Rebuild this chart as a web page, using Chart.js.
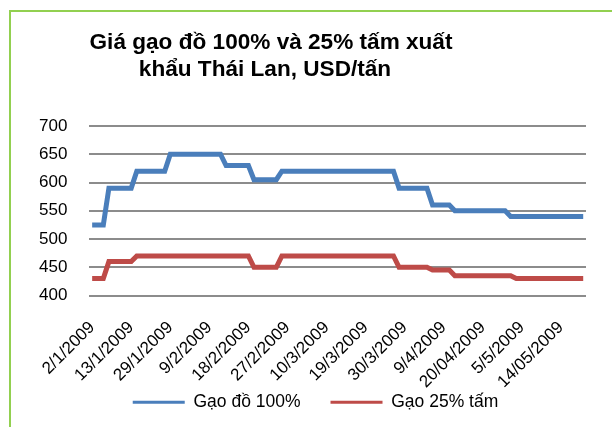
<!DOCTYPE html>
<html lang="vi">
<head>
  <meta charset="UTF-8">
  <title>Giá gạo đồ Thái Lan</title>
  <script src="https://cdn.jsdelivr.net/npm/chart.js"></script>
  <style>
    html, body { margin: 0; padding: 0; background: #fff; overflow: hidden; }
    #wrap { position: absolute; left: 0; top: 0; width: 612px; height: 427px; }
    #frame {
      position: absolute; left: 9px; top: 10px; width: 800px; height: 600px;
      border-left: 2px solid #92D050; border-top: 2px solid #92D050;
      pointer-events: none;
    }
  </style>
</head>
<body>
  <div id="wrap"><canvas id="riceChart"></canvas></div>
  <div id="frame"></div>
  <script>
    // tick labels, one every 7 data points
    const tickLabels = ['2/1/2009', '13/1/2009', '29/1/2009', '9/2/2009', '18/2/2009', '27/2/2009',
      '10/3/2009', '19/3/2009', '30/3/2009', '9/4/2009', '20/04/2009', '5/5/2009', '14/05/2009'];
    const titleLines = ['Giá gạo đồ 100% và 25% tấm xuất', 'khẩu Thái Lan, USD/tấn'];
    const seriesNames = ['Gạo đồ 100%', 'Gạo 25% tấm'];

    // Gạo đồ 100%
    const parboiled = [
      525, 525, 525,
      590, 590, 590, 590, 590,
      620, 620, 620, 620, 620, 620,
      650, 650, 650, 650, 650, 650, 650, 650, 650, 650,
      630, 630, 630, 630, 630,
      605, 605, 605, 605, 605,
      620, 620, 620, 620, 620, 620, 620, 620, 620, 620, 620, 620, 620, 620, 620, 620, 620, 620, 620, 620, 620,
      590, 590, 590, 590, 590, 590,
      560, 560, 560, 560,
      550, 550, 550, 550, 550, 550, 550, 550, 550, 550,
      540, 540, 540, 540, 540, 540, 540, 540, 540, 540, 540, 540, 540, 540
    ];
    // Gạo 25% tấm
    const broken25 = [
      430, 430, 430,
      460, 460, 460, 460, 460,
      470, 470, 470, 470, 470, 470, 470, 470, 470, 470, 470, 470, 470, 470, 470, 470, 470, 470, 470, 470, 470,
      450, 450, 450, 450, 450,
      470, 470, 470, 470, 470, 470, 470, 470, 470, 470, 470, 470, 470, 470, 470, 470, 470, 470, 470, 470, 470,
      450, 450, 450, 450, 450, 450,
      445, 445, 445, 445,
      435, 435, 435, 435, 435, 435, 435, 435, 435, 435, 435,
      430, 430, 430, 430, 430, 430, 430, 430, 430, 430, 430, 430, 430
    ];

    const labels = parboiled.map((_, i) => (i % 7 === 0 ? tickLabels[i / 7] : ''));
    const FONT = "'Liberation Sans', Arial, sans-serif";

    const titlePlugin = {
      id: 'excelTitle',
      afterDraw(chart) {
        const c = chart.ctx;
        c.save();
        c.font = 'bold 22.6px ' + FONT;
        c.fillStyle = '#000';
        c.textAlign = 'center';
        c.textBaseline = 'alphabetic';
        c.fillText(titleLines[0], 271, 49);
        c.fillText(titleLines[1], 265, 76);
        c.restore();
      }
    };

    // legend sits tight under the rotated date labels, like in Excel
    const legendNudge = {
      id: 'legendNudge',
      afterLayout(chart) {
        const lg = chart.legend;
        lg.top -= 31; lg.bottom -= 31;
        lg.left += 14; lg.right += 14;
      }
    };

    new Chart(document.getElementById('riceChart'), {
      type: 'line',
      data: {
        labels: labels,
        datasets: [{
          label: seriesNames[0],
          data: parboiled,
          borderColor: '#4A7EBB',
          backgroundColor: '#4A7EBB',
          borderWidth: 5,
          pointRadius: 0,
          tension: 0
        }, {
          label: seriesNames[1],
          data: broken25,
          borderColor: '#BE4B48',
          backgroundColor: '#BE4B48',
          borderWidth: 5,
          pointRadius: 0,
          tension: 0
        }]
      },
      options: {
        responsive: true,
        maintainAspectRatio: false,
        animation: false,
        layout: { padding: { top: 126, left: 17, right: 26, bottom: -25 } },
        plugins: {
          title: { display: false },
          tooltip: { enabled: false },
          legend: {
            position: 'bottom',
            labels: {
              color: '#000',
              font: { family: FONT, size: 17.5 },
              boxWidth: 52,
              boxHeight: 3,
              padding: 30,
              generateLabels(chart) {
                return Chart.defaults.plugins.legend.labels.generateLabels(chart).map(item => {
                  item.lineWidth = 0;
                  item.fillStyle = item.strokeStyle;
                  return item;
                });
              }
            }
          }
        },
        scales: {
          x: {
            offset: true,
            grid: { display: false },
            border: { display: false },
            afterFit(scale) { scale.height = 99; },
            ticks: {
              autoSkip: false,
              minRotation: 45,
              maxRotation: 45,
              padding: 14,
              color: '#000',
              font: { family: FONT, size: 17 }
            }
          },
          y: {
            min: 400,
            max: 700,
            border: { display: false },
            grid: { color: '#8C8C8C', lineWidth: 2, drawTicks: false },
            ticks: {
              stepSize: 50,
              autoSkip: false,
              padding: 22,
              color: '#000',
              font: { family: FONT, size: 17 }
            }
          }
        }
      },
      plugins: [titlePlugin, legendNudge]
    });
  </script>
</body>
</html>
